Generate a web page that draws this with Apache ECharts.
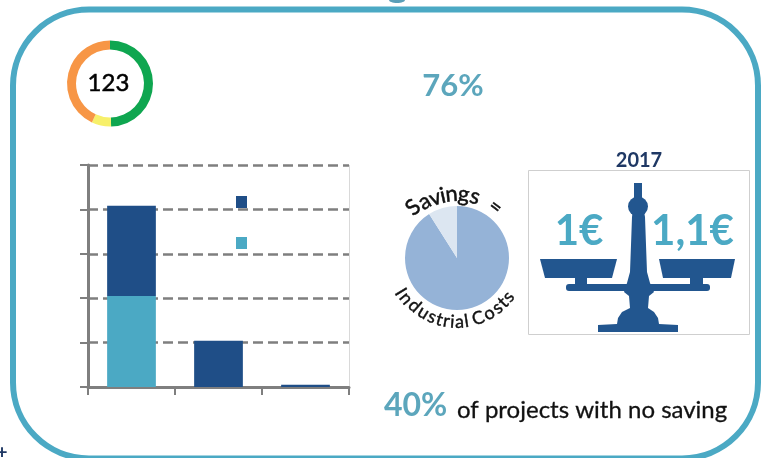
<!DOCTYPE html>
<html><head><meta charset="utf-8">
<style>html,body{margin:0;padding:0;background:#fff}#c{width:768px;height:458px}</style>
<script src="https://cdn.jsdelivr.net/npm/echarts@6/dist/echarts.min.js"></script>
</head><body><div id="c"></div>
<script>
const barCategories = ['A', 'B', 'C'];
const lightValues = [2.05, 0, 0];
const darkValues = [2.03, 1.04, 0.05];
const donutValues = [61, 9, 53];
const donutColors = ['#0FA650', '#F7F06A', '#F79646'];
const donutTotal = '123';
const pieValues = [91, 9];
const pieColors = ['#95B3D7', '#DCE6F1'];
const FONT = 'Lato, "Open Sans", sans-serif';
const TEAL = '#4BA9C4', NAVY = '#1F4E87', SCALE = '#22568F', GREY = '#7F7F7F';

function arcText(chars, cx, cy, size) {
  return chars.map(([ch, deg, r]) => {
    const a = deg * Math.PI / 180;
    return { type: 'text', x: cx + r * Math.sin(a), y: cy - r * Math.cos(a), rotation: -a, z: 20,
      style: { text: ch, fill: '#111', stroke: '#111', lineWidth: 0.5, font: size + 'px ' + FONT, textAlign: 'center', textVerticalAlign: 'middle' } };
  });
}
function bottomText(chars, cx, cy, size) {
  return chars.map(([ch, deg, r]) => {
    const a = deg * Math.PI / 180;
    return { type: 'text', x: cx + r * Math.sin(a), y: cy + r * Math.cos(a), rotation: a, z: 20,
      style: { text: ch, fill: '#111', stroke: '#111', lineWidth: 0.4, font: size + 'px ' + FONT, textAlign: 'center', textVerticalAlign: 'middle' } };
  });
}
function poly(points, fill) {
  return { type: 'polygon', shape: { points }, style: { fill }, z: 12 };
}
const topArc = [['S',-41,67],['a',-30,65],['v',-20,64],['i',-13,64],['n',-5,64],['g',6,64],['s',16.5,64]];
const eqArc = [['=',37,64]];
const lowerChars = [['I',-59,66],['n',-51.6,65],['d',-41.6,64],['u',-31.6,64],['s',-22.9,64],['t',-16,64],['r',-9.6,64],['i',-4.2,64],['a',2.2,64],['l',8.6,64],['C',19.4,64],['o',30.1,64],['s',39.1,64],['t',46,64],['s',53,64]];

const graphics = [
  { type: 'rect', shape: { x: 13, y: 9.5, width: 745, height: 449, r: 76 }, style: { fill: 'none', stroke: TEAL, lineWidth: 6 }, z: 1 },
  { type: 'ellipse', shape: { cx: 397, cy: 0, rx: 8, ry: 3 }, style: { fill: '#5A9FB8' }, z: 2 },
  { type: 'text', x: 2, y: 453, style: { text: '+', fill: '#1F3864', font: 'bold 19px ' + FONT, textAlign: 'center', textVerticalAlign: 'middle' }, z: 2 },
  { type: 'line', shape: { x1: 349.5, y1: 165, x2: 349.5, y2: 387 }, style: { stroke: '#D9D9D9', lineWidth: 1 }, z: 0 },
  { type: 'text', x: 453, y: 86, style: { text: '76%', fill: '#5CA6BC', font: 'bold 31px ' + FONT, textAlign: 'center', textVerticalAlign: 'middle' }, z: 5 },
  { type: 'text', x: 384, y: 406, style: { text: '40%', fill: '#5CA6BC', font: 'bold 32px ' + FONT, textAlign: 'left', textVerticalAlign: 'middle' }, z: 5 },
  { type: 'text', x: 457, y: 410, style: { text: 'of projects with no saving', fill: '#111', stroke: '#111', lineWidth: 0.3, font: '24px ' + FONT, textAlign: 'left', textVerticalAlign: 'middle' }, z: 5 },
  { type: 'text', x: 639, y: 161, style: { text: '2017', fill: '#1F3864', font: 'bold 20px ' + FONT, textAlign: 'center', textVerticalAlign: 'middle' }, z: 5 },
  { type: 'rect', shape: { x: 528.5, y: 170.5, width: 221, height: 164 }, style: { fill: '#fff', stroke: '#CFCFCF', lineWidth: 1 }, z: 6 },
  { type: 'text', x: 579, y: 231, style: { text: '1€', fill: TEAL, font: 'bold 42px ' + FONT, textAlign: 'center', textVerticalAlign: 'middle' }, z: 13 },
  { type: 'text', x: 692.5, y: 231, style: { text: '1,1€', fill: TEAL, font: 'bold 42px ' + FONT, textAlign: 'center', textVerticalAlign: 'middle' }, z: 13 },
  poly([[634,183],[642,183],[642,200],[645,217],[646,245],[647,272],[650,283],[654,292],[649,296],[648,308],[654,312],[658,318],[659,324],[678,325],[678,332],[598,332],[598,325],[617,324],[618,318],[622,312],[630,308],[629,296],[624,292],[627,283],[630,272],[631,245],[632,217],[634,200]], SCALE),
  { type: 'circle', shape: { cx: 638, cy: 206.5, r: 10 }, style: { fill: SCALE }, z: 12 },
  poly([[540,259],[617,259],[612,278],[545,278]], SCALE),
  poly([[659,259],[735,259],[731,278],[663,278]], SCALE),
  { type: 'rect', shape: { x: 575, y: 277, width: 12, height: 8 }, style: { fill: SCALE }, z: 12 },
  { type: 'rect', shape: { x: 690, y: 277, width: 13, height: 8 }, style: { fill: SCALE }, z: 12 },
  { type: 'rect', shape: { x: 566, y: 284, width: 144, height: 7, r: 3 }, style: { fill: SCALE }, z: 12 },
  ...arcText(topArc, 457, 258, 22),
  ...arcText(eqArc, 457, 258, 20),
  ...bottomText(lowerChars, 457, 258, 18)
];

const option = {
  animation: false,
  backgroundColor: '#fff',
  grid: { left: 88, top: 165, width: 261, height: 222 },
  legend: {
    left: 236, top: 196, orient: 'vertical', itemWidth: 11, itemHeight: 12, itemGap: 29, padding: 0,
    icon: 'rect', data: ['Dark', 'Light'], formatter: () => '', selectedMode: false
  },
  xAxis: {
    type: 'category', data: barCategories,
    axisLine: { lineStyle: { color: GREY, width: 3 } },
    axisTick: { show: true, length: 8, lineStyle: { color: GREY, width: 2 } },
    axisLabel: { show: false }, splitLine: { show: false }
  },
  yAxis: {
    type: 'value', min: 0, max: 5, interval: 1,
    axisLine: { show: true, lineStyle: { color: GREY, width: 3 } },
    axisTick: { show: true, length: 8, lineStyle: { color: GREY, width: 2 } },
    axisLabel: { show: false },
    splitLine: { show: true, lineStyle: { color: GREY, width: 2.5, type: [10, 5] } }
  },
  series: [
    { name: 'Light', type: 'bar', stack: 's', data: lightValues, barWidth: '56%', itemStyle: { color: TEAL }, z: 3 },
    { name: 'Dark', type: 'bar', stack: 's', data: darkValues, barWidth: '56%', itemStyle: { color: NAVY }, z: 3 },
    { type: 'pie', center: [110, 83.5], radius: [34, 43], startAngle: 90, clockwise: true, silent: true,
      data: donutValues.map((v, i) => ({ value: v, itemStyle: { color: donutColors[i] } })),
      label: { show: true, position: 'center', formatter: donutTotal, color: '#000', fontSize: 24, fontFamily: FONT,
        textBorderColor: '#000', textBorderWidth: 0.5, padding: [0, 3, 0, 0] },
      labelLine: { show: false }, emphasis: { disabled: true } },
    { type: 'pie', center: [457, 258], radius: [0, 52], startAngle: 90, clockwise: true, silent: true,
      data: pieValues.map((v, i) => ({ value: v, itemStyle: { color: pieColors[i] } })),
      label: { show: false }, labelLine: { show: false }, emphasis: { disabled: true } }
  ],
  graphic: { elements: graphics }
};
const chart = echarts.init(document.getElementById('c'), null, { renderer: 'canvas' });
chart.setOption(option);
</script></body></html>
